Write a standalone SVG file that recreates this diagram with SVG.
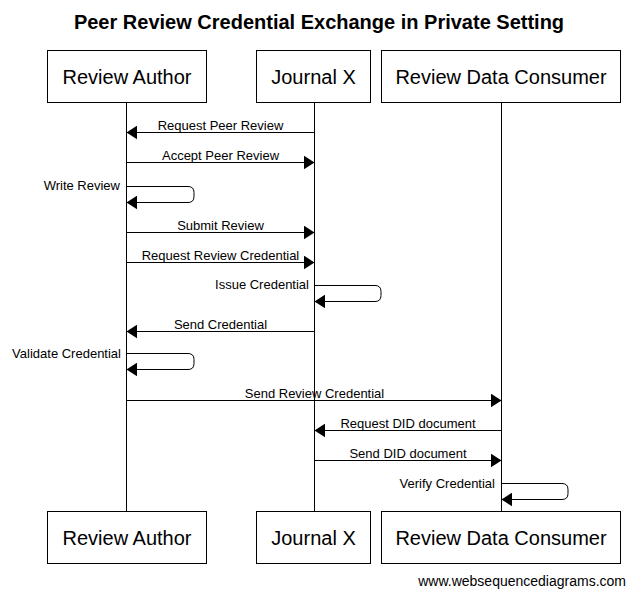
<svg xmlns="http://www.w3.org/2000/svg" width="635" height="595" viewBox="0 0 635 595">
<style>
.box{fill:#fff;stroke:#000;stroke-width:1}
.life{stroke:#000;stroke-width:1}
.msg{fill:none;stroke:#000;stroke-width:1}
.pt{font-family:"Liberation Sans",Arial,sans-serif;font-size:20px;fill:#000;text-anchor:middle}
.ml{font-family:"Liberation Sans",Arial,sans-serif;font-size:13px;fill:#000;text-anchor:middle}
.sl{font-family:"Liberation Sans",Arial,sans-serif;font-size:13px;fill:#000;text-anchor:end}
.foot{font-family:"Liberation Sans",Arial,sans-serif;font-size:14px;fill:#000;text-anchor:end}
.title{font-family:"Liberation Sans",Arial,sans-serif;font-size:20px;font-weight:bold;fill:#000;text-anchor:middle}
</style>
<defs>
<marker id="ah" markerUnits="userSpaceOnUse" markerWidth="11" markerHeight="14" viewBox="0 0 10 13" refX="10" refY="6.5" orient="auto">
<path d="M0,0 L10,6.5 L0,13 z" fill="#000"/>
</marker>
</defs>
<rect width="635" height="595" fill="#fff"/>
<text class="title" x="319" y="29">Peer Review Credential Exchange in Private Setting</text>
<g id="lifelines">
<line class="life" x1="126.5" y1="103" x2="126.5" y2="511"/>
<line class="life" x1="314.5" y1="103" x2="314.5" y2="511"/>
<line class="life" x1="501.5" y1="103" x2="501.5" y2="511"/>
</g>
<g id="node-review-author">
<rect class="box" x="47.5" y="50.5" width="159" height="52"/>
<text class="pt" x="127" y="84">Review Author</text>
<rect class="box" x="47.5" y="511.5" width="159" height="52"/>
<text class="pt" x="127" y="545">Review Author</text>
</g>
<g id="node-journal-x">
<rect class="box" x="256.5" y="50.5" width="114" height="52"/>
<text class="pt" x="313.5" y="84">Journal X</text>
<rect class="box" x="256.5" y="511.5" width="114" height="52"/>
<text class="pt" x="313.5" y="545">Journal X</text>
</g>
<g id="node-review-data-consumer">
<rect class="box" x="381.5" y="50.5" width="239" height="52"/>
<text class="pt" x="501" y="84">Review Data Consumer</text>
<rect class="box" x="381.5" y="511.5" width="239" height="52"/>
<text class="pt" x="501" y="545">Review Data Consumer</text>
</g>
<g id="connectors">
<path class="msg" marker-end="url(#ah)" d="M314.5,132.5 H126.5"/>
<text class="ml" x="220.5" y="130">Request Peer Review</text>
<path class="msg" marker-end="url(#ah)" d="M126.5,162.5 H314.5"/>
<text class="ml" x="220.5" y="160">Accept Peer Review</text>
<path class="msg" marker-end="url(#ah)" d="M126.5,186.5 H188 Q194,186.5 194,192.5 V196.5 Q194,202.5 188,202.5 H126.5"/>
<text class="sl" x="120" y="190">Write Review</text>
<path class="msg" marker-end="url(#ah)" d="M126.5,232.5 H314.5"/>
<text class="ml" x="220.5" y="230">Submit Review</text>
<path class="msg" marker-end="url(#ah)" d="M126.5,262.5 H314.5"/>
<text class="ml" x="220.5" y="260">Request Review Credential</text>
<path class="msg" marker-end="url(#ah)" d="M314.5,285.5 H375 Q381,285.5 381,291.5 V295.5 Q381,301.5 375,301.5 H314.5"/>
<text class="sl" x="309" y="289">Issue Credential</text>
<path class="msg" marker-end="url(#ah)" d="M314.5,331.5 H126.5"/>
<text class="ml" x="220.5" y="329">Send Credential</text>
<path class="msg" marker-end="url(#ah)" d="M126.5,353.5 H188 Q194,353.5 194,359.5 V363.5 Q194,369.5 188,369.5 H126.5"/>
<text class="sl" x="121" y="358">Validate Credential</text>
<path class="msg" marker-end="url(#ah)" d="M126.5,400.5 H501.5"/>
<text class="ml" x="314.5" y="398">Send Review Credential</text>
<path class="msg" marker-end="url(#ah)" d="M501.5,430.5 H314.5"/>
<text class="ml" x="408" y="428">Request DID document</text>
<path class="msg" marker-end="url(#ah)" d="M314.5,460.5 H501.5"/>
<text class="ml" x="408" y="458">Send DID document</text>
<path class="msg" marker-end="url(#ah)" d="M501.5,483.5 H562 Q568,483.5 568,489.5 V493.5 Q568,499.5 562,499.5 H501.5"/>
<text class="sl" x="495" y="488">Verify Credential</text>
</g>
<text class="foot" x="626" y="586">www.websequencediagrams.com</text>
</svg>
